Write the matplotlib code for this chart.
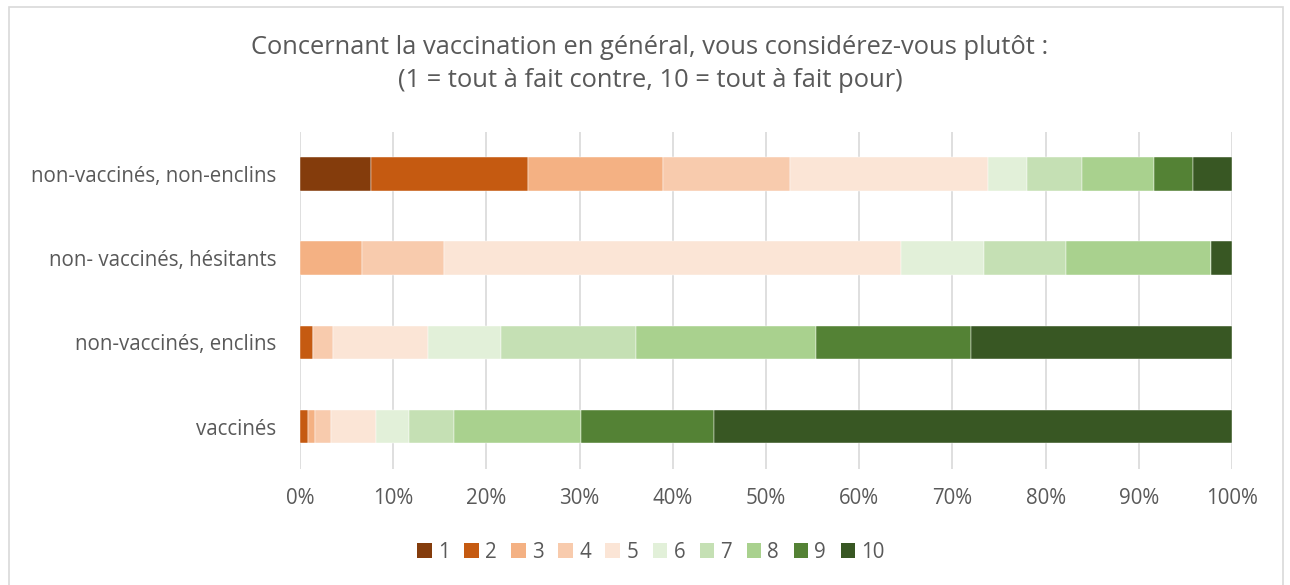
import matplotlib
matplotlib.use("Agg")
import matplotlib.pyplot as plt
from matplotlib.patches import Rectangle, Patch
import numpy as np

categories = ["non-vaccinés, non-enclins", "non- vaccinés, hésitants",
              "non-vaccinés, enclins", "vaccinés"]
levels = ["1", "2", "3", "4", "5", "6", "7", "8", "9", "10"]
# share (%) of each answer level, per category (same order as categories)
level_1 = [7.6, 0.0, 0.0, 0.0]
level_2 = [16.9, 0.0, 1.4, 0.9]
level_3 = [14.4, 6.6, 0.0, 0.75]
level_4 = [13.7, 8.9, 2.1, 1.65]
level_5 = [21.2, 49.0, 10.2, 4.9]
level_6 = [4.2, 8.9, 7.9, 3.5]
level_7 = [5.9, 8.8, 14.4, 4.8]
level_8 = [7.7, 15.6, 19.4, 13.7]
level_9 = [4.2, 0.0, 16.6, 14.2]
level_10 = [4.2, 2.2, 28.0, 55.6]
series = [level_1, level_2, level_3, level_4, level_5,
          level_6, level_7, level_8, level_9, level_10]
colors = ["#843C0C", "#C55A11", "#F4B183", "#F8CBAD", "#FBE5D6",
          "#E2F0D9", "#C5E0B4", "#A9D18E", "#548235", "#385723"]
xticks = [0, 10, 20, 30, 40, 50, 60, 70, 80, 90, 100]
xtick_labels = ["0%", "10%", "20%", "30%", "40%", "50%", "60%", "70%", "80%", "90%", "100%"]
title = "Concernant la vaccination en général, vous considérez-vous plutôt :\n(1 = tout à fait contre, 10 = tout à fait pour)"

plt.rcParams['font.family'] = ['Open Sans', 'DejaVu Sans']
W, H = 1290, 585
fig = plt.figure(figsize=(W / 100, H / 100), dpi=100)
fig.patch.set_facecolor("white")

# chart border
fig.patches.append(Rectangle((9 / W, -0.05), (1283 - 9) / W, 1.05 - 7 / H,
                             transform=fig.transFigure, fill=False,
                             edgecolor="#D9D9D9", linewidth=1.2))

left, right = 300 / W, 1232 / W
top, bottom = 1 - 132 / H, 1 - 468.7 / H
ax = fig.add_axes([left, bottom, right - left, top - bottom])

y = np.arange(len(categories))
cum = np.zeros(len(categories))
for vals, col, lab in zip(series, colors, levels):
    v = np.array(vals)
    ax.barh(y, v, left=cum, height=0.4, color=col, label=lab, zorder=3,
            edgecolor="white", linewidth=0.3)
    cum += v

ax.set_xlim(0, 100)
ax.set_ylim(len(categories) - 0.5, -0.5)
ax.set_xticks(xticks)
ax.set_xticklabels(xtick_labels)
ax.set_yticks(y)
ax.set_yticklabels(categories)
ax.tick_params(axis="x", length=0, pad=14, labelsize=14.8, labelcolor="#595959")
ax.tick_params(axis="y", length=0, pad=17, labelsize=14.8, labelcolor="#595959")
ax.grid(axis="x", color="#D9D9D9", linewidth=1.2, zorder=0)
for s in ax.spines.values():
    s.set_visible(False)

fig.text(650 / W, 1 - 64 / H, title, ha="center", va="center",
         fontsize=18.4, color="#595959", linespacing=1.42)

handles = [Patch(facecolor=c, edgecolor="none") for c in colors]
fig.legend(handles, levels, loc="center", bbox_to_anchor=(651 / W, 1 - 552 / H),
           ncol=10, frameon=False, fontsize=14.8, labelcolor="#595959",
           handlelength=0.72, handleheight=0.72, handletextpad=0.3,
           columnspacing=0.7)

fig.savefig("out.png", dpi=100)
